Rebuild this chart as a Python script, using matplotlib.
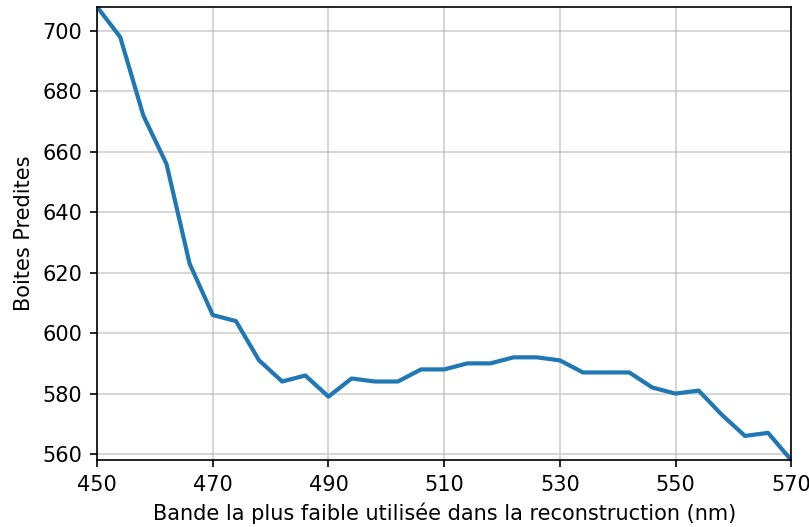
import matplotlib
matplotlib.use("Agg")
import matplotlib.pyplot as plt

bands = [450, 454, 458, 462, 466, 470, 474, 478, 482, 486, 490, 494, 498, 502, 506, 510,
         514, 518, 522, 526, 530, 534, 538, 542, 546, 550, 554, 558, 562, 566, 570]
boxes = [708, 698, 672, 656, 623, 606, 604, 591, 584, 586, 579, 585, 584, 584, 588, 588,
         590, 590, 592, 592, 591, 587, 587, 587, 582, 580, 581, 573, 566, 567, 558]
xticks = [450, 470, 490, 510, 530, 550, 570]

DPI = 150
fig = plt.figure(figsize=(809 / DPI, 527 / DPI), dpi=DPI)
ax = fig.add_axes([0.12, 0.127, 0.858, 0.86])
ax.plot(bands, boxes, color='#1f77b4', linewidth=2)
ax.set_xlim(min(bands), max(bands))
ax.set_ylim(min(boxes), max(boxes))
ax.set_xticks(xticks)
ax.grid(True, color='#b0b0b0', alpha=0.6, linewidth=0.8)
ax.set_xlabel("Bande la plus faible utilisée dans la reconstruction (nm)")
ax.set_ylabel("Boites Predites")
fig.savefig("out.png", dpi=DPI)
